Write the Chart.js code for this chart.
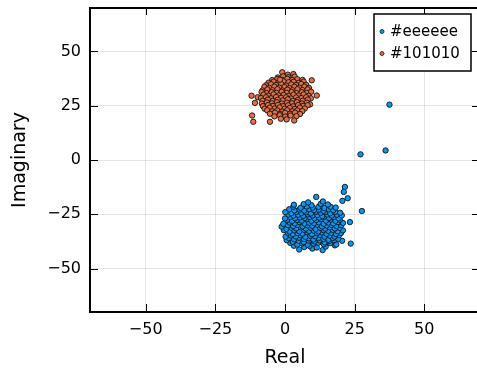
<!DOCTYPE html>
<html>
<head>
<meta charset="utf-8">
<script src="https://cdn.jsdelivr.net/npm/chart.js@4"></script>
<style>
  html, body { margin: 0; padding: 0; background: #fff; overflow: hidden; }
  canvas { display: block; }
</style>
</head>
<body>
<canvas id="chart" width="480" height="369"></canvas>
<script>
// series labels and colours
const seriesNames = ['#eeeeee', '#101010'];
const seriesColors = ['#009AFA', '#E36F47'];
const tickValues = [-50, -25, 0, 25, 50];

// [real, imaginary] pairs
const bluePoints = [
  [5.1,-41.2],[9.8,-40.8],[13.5,-41.5],
  [3.2,-39.5],[6.9,-40.1],[8.8,-39.6],[11.4,-40.3],[14.6,-39.9],[17.9,-39.3],
  [1.9,-38.2],[4.4,-38.9],[6.2,-38.4],[8.1,-39.0],[10.3,-38.5],[12.0,-38.1],[13.9,-38.8],[16.2,-38.3],[18.4,-38.9],
  [0.6,-36.9],[2.8,-37.7],[4.9,-37.2],[6.7,-37.8],[8.5,-37.1],[10.6,-37.5],[12.4,-37.0],[14.3,-37.9],[15.9,-37.3],[17.6,-36.9],[20.5,-37.2],
  [1.4,-36.0],[3.3,-36.5],[5.0,-35.8],[6.8,-36.4],[8.6,-36.1],[10.2,-36.6],[12.1,-35.9],[13.8,-36.3],[15.6,-36.7],[17.2,-35.9],[19.1,-36.3],
  [0.2,-35.3],[2.1,-34.8],[3.9,-35.2],[5.6,-34.6],[7.3,-35.4],[9.1,-34.9],[10.8,-35.1],[12.6,-34.5],[14.2,-35.3],[16.0,-34.8],[17.8,-35.2],[19.4,-34.6],
  [1.0,-33.5],[2.8,-34.1],[4.5,-33.6],[6.3,-33.9],[8.0,-33.3],[9.7,-34.2],[11.5,-33.7],[13.2,-33.4],[14.9,-34.0],[16.6,-33.5],[18.3,-34.1],[20.1,-33.6],
  [-0.4,-32.3],[1.6,-32.9],[3.4,-32.4],[5.1,-32.8],[6.9,-32.2],[8.6,-32.7],[10.3,-32.5],[12.0,-32.9],[13.8,-32.3],[15.5,-32.6],[17.1,-32.1],[18.9,-32.8],[20.8,-32.4],
  [0.5,-31.7],[2.3,-31.1],[4.0,-31.5],[5.8,-31.0],[7.5,-31.6],[9.2,-31.2],[11.0,-31.8],[12.7,-31.3],[14.4,-31.6],[16.1,-31.0],[17.9,-31.5],[19.6,-31.2],
  [-1.2,-30.7],[1.1,-30.0],[2.9,-30.4],[4.6,-29.9],[6.3,-30.5],[8.1,-30.1],[9.8,-30.3],[11.5,-29.8],[13.3,-30.6],[15.0,-30.2],[16.7,-29.9],[18.5,-30.4],[20.2,-30.0],
  [-0.6,-29.4],[1.7,-28.8],[3.5,-29.2],[5.2,-28.6],[7.0,-29.3],[8.7,-28.9],[10.4,-29.1],[12.1,-28.7],[13.9,-29.4],[15.6,-28.8],[17.3,-29.2],[19.0,-28.6],[20.8,-29.0],
  [0.8,-27.5],[2.5,-28.1],[4.3,-27.6],[6.0,-27.9],[7.8,-27.3],[9.5,-28.0],[11.2,-27.6],[12.9,-27.2],[14.7,-27.9],[16.4,-27.4],[18.1,-28.0],[19.7,-27.5],
  [0.0,-26.9],[1.9,-26.3],[3.6,-26.8],[5.4,-26.4],[7.1,-26.7],[8.8,-26.2],[10.6,-26.8],[12.3,-26.5],[14.0,-26.1],[15.8,-26.7],[17.5,-26.3],[19.3,-26.8],
  [1.2,-25.1],[3.0,-25.6],[4.7,-25.2],[6.5,-25.7],[8.2,-25.0],[9.9,-25.5],[11.6,-25.3],[13.4,-25.8],[15.1,-25.1],[16.8,-25.6],[18.6,-25.2],[20.4,-25.5],
  [0.1,-24.0],[2.3,-24.5],[4.1,-23.9],[5.9,-24.4],[7.6,-24.1],[9.3,-24.6],[11.1,-23.8],[12.8,-24.3],[14.5,-24.0],[16.2,-24.5],[18.0,-23.9],[19.8,-24.3],
  [1.5,-22.7],[3.4,-23.2],[5.2,-22.8],[6.9,-23.3],[8.7,-22.6],[10.4,-23.1],[12.2,-22.9],[13.9,-23.4],[15.7,-22.7],[17.3,-23.1],
  [3.0,-21.5],[5.6,-22.0],[7.8,-21.4],[9.9,-21.9],[12.0,-21.6],[14.1,-22.1],[16.3,-21.5],[18.2,-21.9],
  [3.2,-20.6],[6.7,-20.3],[9.5,-20.8],[12.8,-20.2],[15.4,-20.5],
  [8.3,-19.5],[13.6,-19.1],
  [11.2,-17.0],[21.5,-12.4],[21.1,-14.7],[22.5,-17.6],[20.6,-18.8],[27.6,-23.5],
  [23.3,-28.6],[23.6,-38.5],[27.1,2.6],[36.1,4.4],[37.5,25.5]
];

const orangePoints = [
  [1.0,39.3],[3.0,39.6],[-1.0,40.4],
  [-2.6,38.0],[-0.7,38.5],[1.2,38.1],[3.5,38.4],
  [-4.6,36.8],[-2.8,37.3],[-1.0,36.9],[0.8,37.4],[2.6,36.8],[4.4,37.2],[6.3,36.9],[9.6,36.7],
  [-5.9,35.6],[-4.1,36.1],[-2.3,35.7],[-0.5,36.2],[1.3,35.8],[3.1,36.0],[4.9,35.5],[6.7,36.1],
  [-6.8,34.4],[-5.0,34.9],[-3.2,34.5],[-1.4,35.0],[0.4,34.3],[2.2,34.8],[4.0,34.5],[5.8,35.0],[7.6,34.6],
  [-7.4,33.7],[-5.6,33.2],[-3.8,33.8],[-2.0,33.3],[-0.2,33.6],[1.6,33.1],[3.4,33.7],[5.2,33.3],[7.0,33.8],[8.6,33.2],
  [-8.1,32.0],[-6.3,32.5],[-4.5,32.1],[-2.7,32.6],[-0.9,32.0],[0.9,32.4],[2.7,32.1],[4.5,32.6],[6.3,32.2],[8.1,32.5],
  [-8.4,31.3],[-6.6,30.8],[-4.8,31.2],[-3.0,30.9],[-1.2,31.4],[0.6,30.9],[2.4,31.3],[4.2,30.8],[6.0,31.2],[7.8,30.9],[9.4,31.4],
  [-12.0,29.6],[-9.8,28.9],[-7.7,30.1],[-5.9,29.6],[-4.1,30.2],[-2.3,29.7],[-0.5,30.0],[1.3,29.5],[3.1,30.1],[4.9,29.7],[6.7,30.2],[8.5,29.6],[11.4,29.7],
  [-8.6,28.5],[-6.8,28.9],[-5.0,28.4],[-3.2,29.0],[-1.4,28.6],[0.4,28.9],[2.2,28.3],[4.0,28.8],[5.8,28.5],[7.6,28.9],[9.3,28.4],
  [-8.0,27.3],[-6.2,27.8],[-4.4,27.2],[-2.6,27.7],[-0.8,27.4],[1.0,27.9],[2.8,27.2],[4.6,27.6],[6.4,27.3],[8.2,27.8],
  [-10.8,26.3],[-8.3,26.0],[-6.5,26.5],[-4.7,26.1],[-2.9,26.6],[-1.1,26.0],[0.7,26.4],[2.5,26.1],[4.3,26.6],[6.1,26.0],[7.9,26.4],[9.0,25.6],
  [-7.9,24.8],[-6.1,25.3],[-4.3,24.9],[-2.5,25.4],[-0.7,24.8],[1.1,25.2],[2.9,24.7],[4.7,25.3],[6.5,24.9],[8.1,25.2],
  [-7.3,23.6],[-5.5,24.1],[-3.7,23.7],[-1.9,24.2],[-0.1,23.6],[1.7,24.0],[3.5,23.5],[5.3,24.1],[7.1,23.7],
  [-6.4,22.9],[-4.6,22.4],[-2.8,22.8],[-1.0,22.3],[0.8,22.9],[2.6,22.4],[4.4,22.8],[6.2,22.5],
  [-11.8,20.5],[-5.4,21.3],[-3.6,21.8],[-1.8,21.2],[0.0,21.7],[1.8,21.3],[3.6,21.8],[5.4,21.2],
  [-3.8,20.1],[-1.9,20.6],[0.1,20.0],[2.0,20.5],[4.1,20.2],
  [-11.4,17.6],[-5.4,17.6],[-1.5,19.0],[0.6,18.7],[3.3,18.2],
  [-1.8,37.0]
];

const FONT = 'DejaVu Sans';

function fmtTick(v) {
  return v < 0 ? '\u2212' + Math.abs(v) : String(v);
}

// box frame with inward ticks, plus the boxed legend in the corner
const framePlugin = {
  id: 'frame',
  afterDraw(chart) {
    const { ctx, chartArea: a, scales: { x, y } } = chart;
    ctx.save();
    ctx.strokeStyle = '#000';
    ctx.lineWidth = 1;
    ctx.beginPath();
    tickValues.forEach(v => {
      const px = Math.round(x.getPixelForValue(v)) + 0.5;
      ctx.moveTo(px, a.bottom); ctx.lineTo(px, a.bottom - 8);
      ctx.moveTo(px, a.top); ctx.lineTo(px, a.top + 7);
      const py = Math.round(y.getPixelForValue(v)) + 0.5;
      ctx.moveTo(a.left, py); ctx.lineTo(a.left + 8, py);
      ctx.moveTo(a.right, py); ctx.lineTo(a.right - 8, py);
    });
    ctx.stroke();
    ctx.lineWidth = 2;
    ctx.strokeRect(a.left, a.top, a.right - a.left, a.bottom - a.top);

    // legend
    const lx = 374, ly = 14, lw = 97, lh = 57;
    ctx.fillStyle = '#fff';
    ctx.fillRect(lx, ly, lw, lh);
    ctx.lineWidth = 1.5;
    ctx.strokeRect(lx, ly, lw, lh);
    ctx.font = '15px "' + FONT + '"';
    ctx.textBaseline = 'middle';
    ctx.textAlign = 'left';
    seriesNames.forEach((name, i) => {
      const cy = 31.5 + i * 22;
      ctx.beginPath();
      ctx.arc(382, cy, 2, 0, Math.PI * 2);
      ctx.fillStyle = seriesColors[i];
      ctx.fill();
      ctx.lineWidth = 0.8;
      ctx.strokeStyle = '#111';
      ctx.stroke();
      ctx.fillStyle = '#000';
      ctx.fillText(name, 390, cy + 1);
    });
    ctx.restore();
  }
};

const ctx = document.getElementById('chart').getContext('2d');

new Chart(ctx, {
  type: 'scatter',
  data: {
    datasets: [
      {
        label: seriesNames[0],
        data: bluePoints.map(p => ({ x: p[0], y: p[1] })),
        backgroundColor: seriesColors[0],
        borderColor: '#111',
        borderWidth: 0.9,
        pointRadius: 2.7
      },
      {
        label: seriesNames[1],
        data: orangePoints.map(p => ({ x: p[0], y: p[1] })),
        backgroundColor: seriesColors[1],
        borderColor: '#111',
        borderWidth: 0.9,
        pointRadius: 2.7
      }
    ]
  },
  options: {
    responsive: false,
    animation: false,
    layout: { autoPadding: false, padding: { top: 8, left: 0, right: 0, bottom: 0 } },
    plugins: {
      legend: { display: false },
      tooltip: { enabled: false }
    },
    scales: {
      x: {
        type: 'linear',
        min: -70,
        max: 70,
        afterBuildTicks: s => { s.ticks = tickValues.map(v => ({ value: v })); },
        afterFit: s => { s.height = 57; s.paddingLeft = 0; s.paddingRight = 0; },
        grid: { color: 'rgba(0,0,0,0.1)', drawTicks: false },
        border: { display: false },
        ticks: {
          padding: 8,
          color: '#000',
          font: { family: FONT, size: 16 },
          callback: v => fmtTick(v)
        },
        title: {
          display: true,
          text: 'Real',
          color: '#000',
          font: { family: FONT, size: 19 },
          padding: { top: 0, bottom: 0 }
        }
      },
      y: {
        type: 'linear',
        min: -70,
        max: 70,
        afterBuildTicks: s => { s.ticks = tickValues.map(v => ({ value: v })); },
        afterFit: s => { s.width = 90; s.paddingTop = 0; s.paddingBottom = 0; },
        grid: { color: 'rgba(0,0,0,0.1)', drawTicks: false },
        border: { display: false },
        ticks: {
          padding: 9,
          color: '#000',
          font: { family: FONT, size: 16 },
          callback: v => fmtTick(v)
        },
        title: {
          display: true,
          text: 'Imaginary',
          color: '#000',
          font: { family: FONT, size: 19 },
          padding: { top: 9, bottom: 0 }
        }
      }
    }
  },
  plugins: [framePlugin]
});
</script>
</body>
</html>
